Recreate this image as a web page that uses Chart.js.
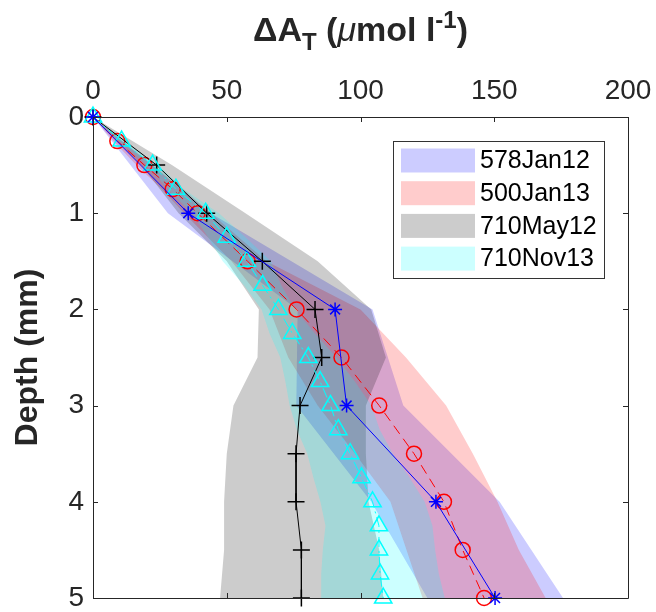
<!DOCTYPE html>
<html><head><meta charset="utf-8">
<script src="https://cdn.jsdelivr.net/npm/chart.js@4.4.1/dist/chart.umd.min.js"></script>
<style>html,body{margin:0;padding:0;background:#fff;}</style>
</head><body>
<canvas id="c" width="656" height="612"></canvas>
<script>
// ---------- data ----------
const seriesNames = ['578Jan12', '500Jan13', '710May12', '710Nov13'];
const xTicks = [0, 50, 100, 150, 200];
const yTicks = [0, 1, 2, 3, 4, 5];

// 578Jan12 (blue, *)
const blueDepth = [0, 1, 2, 3, 4, 5];
const blueMean  = [0, 35.6, 90.5, 94.8, 128.2, 150.3];
const blueLo    = [0, 28, 76.5, 76, 104, 125];
const blueHi    = [0, 44, 104.5, 116, 152, 175.7];

// 500Jan13 (red, o)
const redDepth = [0, 0.25, 0.5, 0.75, 1, 1.5, 2, 2.5, 3, 3.5, 4, 4.5, 5];
const redMean  = [0, 9.1, 19.2, 29.8, 39.1, 57.8, 76.1, 92.9, 107.0, 120.0, 131.2, 138.2, 146.2];
const redLo    = [0, 7.6, 16.2, 25.8, 34.1, 51.8, 66, 73, 84, 98, 111.2, 117.2, 123.2];
const redHi    = [0, 10.6, 22.2, 33.8, 44.1, 64.8, 100, 117, 132, 142, 151.2, 159.2, 169.2];

// 710May12 (black, +)
const blackDepth = [0, 0.5, 1, 1.5, 2, 2.5, 3, 3.5, 4, 4.5, 5];
const blackMean  = [0, 23.8, 42.5, 63.3, 83.0, 85.5, 77.4, 75.9, 75.9, 77.9, 77.9];
const grayLo     = [0, 18, 32, 50, 62, 61.5, 52.5, 50, 49, 49, 47.5];
const grayHi     = [0, 29.5, 57, 84, 104, 109.5, 102, 102, 103, 107, 108.5];

// 710Nov13 (cyan, triangle)
const cyanDepth = [0, 0.25, 0.5, 0.75, 1, 1.25, 1.5, 1.75, 2, 2.25, 2.5, 2.75, 3, 3.25, 3.5, 3.75, 4, 4.25, 4.5, 4.75, 5];
const cyanMean  = [0, 10.7, 22.3, 31.0, 42.1, 50.0, 57.5, 63.4, 69.3, 74.5, 80.5, 84.9, 88.8, 91.7, 96.1, 100.4, 104.5, 106.9, 106.9, 107.3, 108.5];
const cyanLo    = [0, 9.7, 20.3, 28, 37.1, 43, 48.5, 56.4, 63, 66, 70, 71.9, 73.5, 76.2, 80.1, 82.4, 85, 86.9, 85.9, 85.3, 85.5];
const cyanHi    = [0, 11.7, 24.3, 34, 47.1, 57, 66.5, 70.4, 75.6, 83, 91, 97.9, 104.1, 107.2, 112.1, 118.4, 124, 126.9, 127.9, 129.3, 131.5];

// ---------- styling ----------
const FONT = "'Liberation Sans', Arial, Helvetica, sans-serif";
const AXIS_COLOR = '#262626';
const bandColors = ['rgba(0,0,255,0.2)', 'rgba(255,0,0,0.2)', 'rgba(0,0,0,0.2)', 'rgba(0,255,255,0.2)'];

const pts = (xs, ys) => xs.map((v, i) => ({x: v, y: ys[i]}));

function lineDs(label, xs, ys, color, style, radius, dash) {
  return {
    label, data: pts(xs, ys), borderColor: color, borderWidth: 1, borderDash: dash || [],
    pointStyle: style, pointRadius: radius, pointBorderColor: color, pointBorderWidth: 1.5,
    pointBackgroundColor: 'rgba(0,0,0,0)', backgroundColor: 'rgba(0,0,0,0)',
    fill: false, tension: 0, clip: false, pointHoverRadius: radius
  };
}
function bandDs(label, xs, ys, color, fillTarget) {
  return {
    label, data: pts(xs, ys), borderWidth: 0, borderColor: 'rgba(0,0,0,0)',
    backgroundColor: color, pointRadius: 0, pointHoverRadius: 0, pointHitRadius: 0,
    fill: fillTarget, tension: 0
  };
}

const datasets = [
  lineDs(seriesNames[0], blueMean, blueDepth, '#0000ff', 'star', 7),
  lineDs(seriesNames[3], cyanMean, cyanDepth, '#00ffff', 'triangle', 10, [10, 4, 2, 4]),
  lineDs(seriesNames[2], blackMean, blackDepth, '#000000', 'cross', 8.5),
  lineDs(seriesNames[1], redMean, redDepth, '#ff0000', 'circle', 7.5, [10, 6]),
  bandDs('cyanHi', cyanHi, cyanDepth, bandColors[3], 5),
  bandDs('cyanLo', cyanLo, cyanDepth, bandColors[3], false),
  bandDs('grayHi', grayHi, blackDepth, bandColors[2], 7),
  bandDs('grayLo', grayLo, blackDepth, bandColors[2], false),
  bandDs('redHi', redHi, redDepth, bandColors[1], 9),
  bandDs('redLo', redLo, redDepth, bandColors[1], false),
  bandDs('blueHi', blueHi, blueDepth, bandColors[0], 11),
  bandDs('blueLo', blueLo, blueDepth, bandColors[0], false)
];

// axes box + inward ticks
const framePlugin = {
  id: 'frame',
  afterDraw(chart) {
    const {ctx, chartArea: a, scales} = chart;
    ctx.save();
    ctx.strokeStyle = AXIS_COLOR;
    ctx.lineWidth = 1;
    ctx.beginPath();
    ctx.rect(Math.round(a.left) + 0.5, Math.round(a.top) + 0.5, Math.round(a.right - a.left), Math.round(a.bottom - a.top));
    ctx.stroke();
    const tl = 5;
    ctx.beginPath();
    xTicks.forEach(v => {
      const px = Math.round(scales.x.getPixelForValue(v)) + 0.5;
      ctx.moveTo(px, a.top); ctx.lineTo(px, a.top + tl);
      ctx.moveTo(px, a.bottom); ctx.lineTo(px, a.bottom - tl);
    });
    yTicks.forEach(v => {
      const py = Math.round(scales.y.getPixelForValue(v)) + 0.5;
      ctx.moveTo(a.left, py); ctx.lineTo(a.left + tl, py);
      ctx.moveTo(a.right, py); ctx.lineTo(a.right - tl, py);
    });
    ctx.stroke();
    ctx.restore();
  }
};

// x-axis label with subscript / superscript
const titlePlugin = {
  id: 'xlabel',
  afterDraw(chart) {
    const {ctx, chartArea: a} = chart;
    const big = 34, small = 24;
    const parts = [
      {t: '\u0394A', f: `bold ${big}px ${FONT}`, dy: 0},
      {t: 'T', f: `bold ${small}px ${FONT}`, dy: 9},
      {t: ' (', f: `bold ${big}px ${FONT}`, dy: 0},
      {t: '\u03bc', f: `italic ${big}px ${FONT}`, dy: 0},
      {t: 'mol l', f: `bold ${big}px ${FONT}`, dy: 0},
      {t: '-1', f: `bold ${small}px ${FONT}`, dy: -13},
      {t: ')', f: `bold ${big}px ${FONT}`, dy: 0}
    ];
    ctx.save();
    ctx.fillStyle = AXIS_COLOR;
    ctx.textBaseline = 'alphabetic';
    ctx.textAlign = 'left';
    let total = 0;
    parts.forEach(p => { ctx.font = p.f; p.w = ctx.measureText(p.t).width; total += p.w; });
    let x = (a.left + a.right) / 2 - total / 2;
    const base = 41;
    parts.forEach(p => { ctx.font = p.f; ctx.fillText(p.t, x, base + p.dy); x += p.w; });
    ctx.restore();
  }
};

// legend (patches only), inside the axes, top-right
const legendPlugin = {
  id: 'patchLegend',
  afterDraw(chart) {
    const {ctx} = chart;
    const bx = 393.5, by = 141.5, bw = 211, bh = 137;
    ctx.save();
    ctx.fillStyle = '#ffffff';
    ctx.fillRect(bx, by, bw, bh);
    ctx.strokeStyle = '#333333';
    ctx.lineWidth = 1;
    ctx.strokeRect(bx, by, bw, bh);
    ctx.font = `25px ${FONT}`;
    ctx.textBaseline = 'middle';
    ctx.textAlign = 'left';
    seriesNames.forEach((name, i) => {
      const cy = 160.5 + i * 32.7;
      ctx.fillStyle = bandColors[i];
      ctx.fillRect(401, cy - 12, 74, 24);
      ctx.fillStyle = '#000000';
      ctx.fillText(name, 480, cy + 1);
    });
    ctx.restore();
  }
};

new Chart(document.getElementById('c'), {
  type: 'line',
  data: {datasets},
  options: {
    responsive: false,
    devicePixelRatio: 1,
    animation: false,
    indexAxis: 'y',
    layout: {padding: {left: 0, right: 28, top: 0, bottom: 14}},
    plugins: {
      legend: {display: false},
      tooltip: {enabled: false},
      filler: {propagate: false, drawTime: 'beforeDatasetsDraw'}
    },
    scales: {
      x: {
        type: 'linear', position: 'top', min: 0, max: 200,
        afterBuildTicks: s => { s.ticks = xTicks.map(v => ({value: v})); },
        ticks: {font: {family: FONT, size: 28}, color: AXIS_COLOR, padding: 9, maxRotation: 0},
        grid: {display: false, drawTicks: false},
        border: {display: false},
        afterFit: s => { s.height = 117; s.paddingLeft = 0; s.paddingRight = 0; }
      },
      y: {
        type: 'linear', position: 'left', reverse: true, min: 0, max: 5,
        afterBuildTicks: s => { s.ticks = yTicks.map(v => ({value: v})); },
        ticks: {font: {family: FONT, size: 28}, color: AXIS_COLOR, padding: 9},
        grid: {display: false, drawTicks: false},
        border: {display: false},
        title: {display: true, text: 'Depth (mm)', color: AXIS_COLOR,
                font: {family: FONT, size: 32, weight: 'bold'}, padding: {top: 9, bottom: 0}},
        afterFit: s => { s.width = 93; s.paddingTop = 0; s.paddingBottom = 0; }
      }
    }
  },
  plugins: [framePlugin, titlePlugin, legendPlugin]
});
</script>
</body></html>
